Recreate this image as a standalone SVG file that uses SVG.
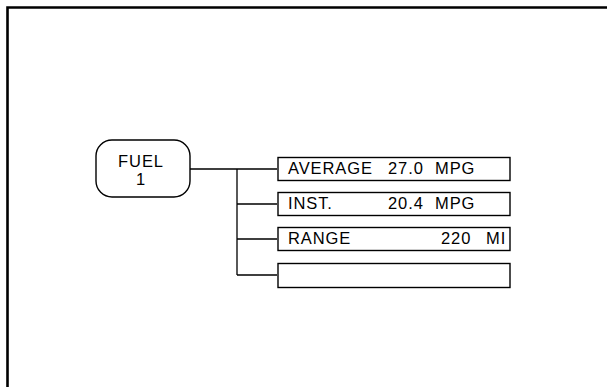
<svg xmlns="http://www.w3.org/2000/svg" width="607" height="387" viewBox="0 0 607 387">
<style>
.t{font-family:"Liberation Sans",Arial,sans-serif;font-size:16.5px;fill:#000;letter-spacing:0.9px}
.box{fill:#fff;stroke:#000;stroke-width:1.4}
.ln{stroke:#000;stroke-width:1.3;fill:none}
</style>
<rect width="607" height="387" fill="#fff"/>
<g id="frame"><path d="M7.5,387 V7.5 H607" fill="none" stroke="#000" stroke-width="2.6"/></g>
<g id="connectors">
<path class="ln" d="M190,169 H277 M237,169 V275 M237,204 H277 M237,239 H277 M237,275 H277"/>
</g>
<g id="fuel">
<rect class="box" x="96" y="140" width="94" height="57" rx="16"/>
<text class="t" x="141" y="167" text-anchor="middle">FUEL</text>
<text class="t" x="141" y="185" text-anchor="middle">1</text>
</g>
<g id="average">
<rect class="box" x="278" y="157.5" width="232" height="23"/>
<text class="t" x="288" y="174">AVERAGE</text>
<text class="t" x="388" y="174">27.0</text>
<text class="t" x="435" y="174">MPG</text>
</g>
<g id="inst">
<rect class="box" x="278" y="192.5" width="232" height="23"/>
<text class="t" x="288" y="209">INST.</text>
<text class="t" x="388" y="209">20.4</text>
<text class="t" x="435" y="209">MPG</text>
</g>
<g id="range">
<rect class="box" x="278" y="227.5" width="232" height="23"/>
<text class="t" x="288" y="244">RANGE</text>
<text class="t" x="441" y="244">220</text>
<text class="t" x="486" y="244">MI</text>
</g>
<g id="empty">
<rect class="box" x="278" y="263.5" width="232" height="24"/>
</g>
</svg>
